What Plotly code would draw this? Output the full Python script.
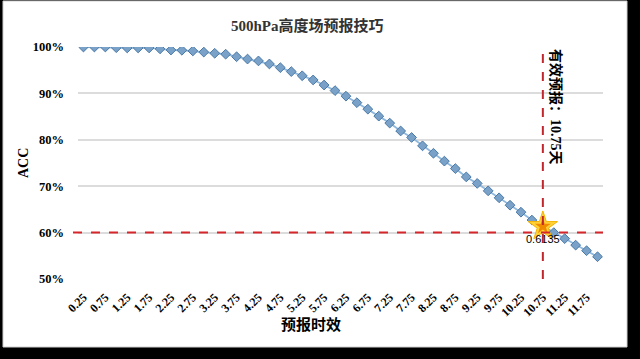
import plotly.graph_objects as go

lead_days = [0.25 * (i + 1) for i in range(48)]
acc = [1.000, 1.000, 1.000, 0.9985, 0.998, 0.998, 0.998, 0.996, 0.9935, 0.993,
       0.9915, 0.989, 0.9865, 0.9845, 0.979, 0.974, 0.970, 0.9635, 0.9555, 0.947,
       0.938, 0.929, 0.918, 0.906, 0.894, 0.880, 0.866, 0.851, 0.836, 0.819,
       0.805, 0.787, 0.771, 0.754, 0.738, 0.720, 0.706, 0.690, 0.675, 0.659,
       0.644, 0.627, 0.6135, 0.600, 0.587, 0.573, 0.561, 0.548]
tick_vals = [0.25 + 0.5 * i for i in range(24)]
tick_text = ["%g" % v for v in tick_vals]
y_ticks = [0.5, 0.6, 0.7, 0.8, 0.9, 1.0]
y_text = ["50%", "60%", "70%", "80%", "90%", "100%"]
threshold = 0.6
valid_day = 10.75
valid_acc = 0.6135

W, H = 640, 359
L, R, T, B = 78, 37, 47, 80
pw, ph = W - L - R, H - T - B

def px(x):
    return (x - L) / pw

def py(y):
    return (H - B - y) / ph

serif = "Times New Roman, Liberation Serif, serif"
cjk = "Noto Sans CJK SC, sans-serif"

fig = go.Figure()
fig.add_trace(go.Scatter(
    x=lead_days, y=acc, mode="lines+markers",
    line=dict(color="#8FB8DE", width=1.8),
    marker=dict(symbol="diamond", size=7.5, color="#7AA2C9",
                line=dict(color="#4A79A6", width=1)),
    hoverinfo="skip", showlegend=False))
fig.add_trace(go.Scatter(
    x=[valid_day], y=[valid_acc], mode="markers",
    marker=dict(symbol="star", size=22, color="#FFD23A",
                line=dict(color="#F5B400", width=1)),
    showlegend=False, hoverinfo="skip"))
fig.add_trace(go.Scatter(
    x=[valid_day], y=[valid_acc], mode="markers+text",
    marker=dict(symbol="star", size=12, color="#F08A00", line=dict(width=0)),
    text=["%.4f" % valid_acc], textposition="bottom center",
    textfont=dict(family="Liberation Sans, Arial, sans-serif", size=11, color="#000000"),
    showlegend=False, hoverinfo="skip"))

shapes = [
    dict(type="rect", xref="paper", yref="paper",
         x0=px(3), x1=px(627), y0=py(347), y1=py(1),
         fillcolor="white", line=dict(color="#D0D0D0", width=1), layer="below"),
    dict(type="line", xref="paper", yref="y", x0=px(73), x1=1.0,
         y0=threshold, y1=threshold,
         line=dict(color="#D7262B", width=2, dash="dash")),
    dict(type="line", xref="x", yref="y", x0=valid_day, x1=valid_day,
         y0=0.5, y1=1.0, line=dict(color="#C0262B", width=2, dash="dash")),
]

annotations = [
    dict(text="<b><span style='font-family:%s'>500hPa</span>高度场预报技巧</b>" % serif,
         xref="paper", yref="paper", x=px(307), y=py(24), xanchor="center",
         yanchor="middle", showarrow=False,
         font=dict(family=cjk, size=15, color="#333333")),
    dict(text="<b>预报时效</b>", xref="paper", yref="paper", x=px(311), y=py(323),
         xanchor="center", yanchor="middle",
         showarrow=False, font=dict(family=cjk, size=15, color="#000000")),
    dict(text="<b>ACC</b>", xref="paper", yref="paper", x=px(23), y=py(163),
         xanchor="center", yanchor="middle",
         showarrow=False, textangle=-90,
         font=dict(family=serif, size=14, color="#000000")),
    dict(text="<b>有效预报：<span style='font-family:%s'>10.75</span>天</b>" % serif,
         xref="paper", yref="paper", x=px(557), y=py(47), yanchor="top",
         xanchor="center", showarrow=False, textangle=90,
         font=dict(family=cjk, size=14, color="#000000")),
]

fig.update_layout(
    width=W, height=H, margin=dict(l=L, r=R, t=T, b=B),
    paper_bgcolor="#000000", plot_bgcolor="rgba(0,0,0,0)",
    shapes=shapes, annotations=annotations,
    xaxis=dict(range=[0.125, 12.125], tickmode="array", tickvals=tick_vals,
               ticktext=tick_text, tickangle=-45, showgrid=False, zeroline=False,
               showline=False, ticks="", automargin=False, ticklabelstandoff=8,
               tickfont=dict(family=serif, size=12, color="#000000", weight="bold")),
    yaxis=dict(range=[0.5, 1.0], tickmode="array", tickvals=y_ticks, ticktext=y_text,
               showgrid=True, gridcolor="#DCDCDC", gridwidth=1.5, zeroline=False,
               showline=False, ticks="", ticklabelstandoff=13, automargin=False,
               tickfont=dict(family=serif, size=12.5, color="#000000", weight="bold")),
)
fig.write_html("out.html", config={"displayModeBar": False},
               post_script="document.body.style.margin='0';document.body.style.padding='0';")
